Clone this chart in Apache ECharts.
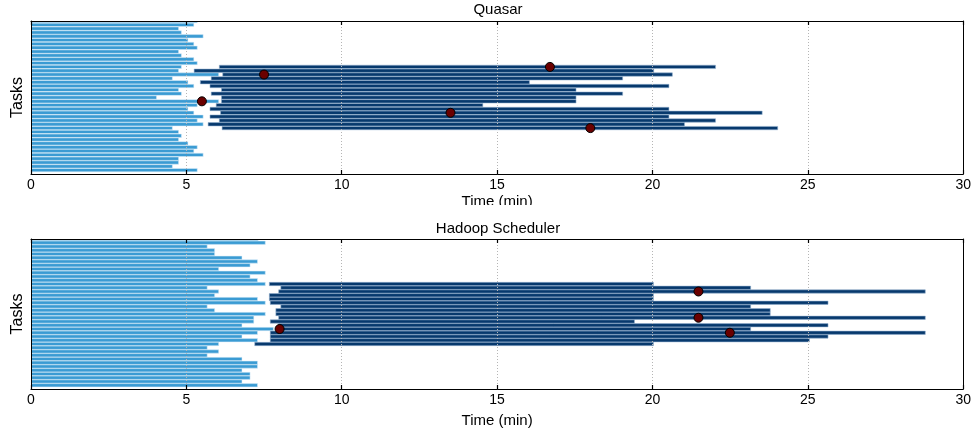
<!DOCTYPE html>
<html>
<head>
<meta charset="utf-8">
<script src="https://cdn.jsdelivr.net/npm/echarts@6/dist/echarts.min.js"></script>
<style>html,body{margin:0;padding:0;background:#fff;}#c{width:974px;height:429px;}</style>
</head>
<body>
<div id="c"></div>
<script>
// ---- data (minutes) ----
const xTicks = [0, 5, 10, 15, 20, 25, 30];
const taskCount = 40;

const quasarMapEnd = [5.35,5.24,4.75,4.84,5.54,5.05,5.24,5.35,4.75,4.84,5.24,5.35,4.84,4.75,6.04,4.55,5.05,5.24,4.75,4.84,4.04,6.04,5.35,5.05,5.24,5.54,5.35,5.54,4.55,4.75,4.84,4.75,5.05,5.35,5.24,5.54,4.75,4.75,4.55,5.35];
const quasarReduceRows = [12,13,14,15,16,17,18,19,20,21,22,23,24,25,26,27,28];
const quasarReduceStart = [6.06,5.25,6.17,5.80,5.45,5.76,6.13,5.80,6.13,6.13,5.96,5.76,6.10,5.76,6.06,5.70,6.15];
const quasarReduceEnd = [22.03,20.04,20.64,19.04,16.04,20.53,17.54,19.04,17.54,17.54,14.54,20.53,23.53,20.53,22.03,21.03,24.03];
const quasarStragglerTime = [16.7, 7.5, 5.5, 13.5, 18.0];
const quasarStragglerRow = [12, 14, 21, 24, 28];

const hadoopMapEnd = [7.31,7.54,5.67,5.91,5.91,6.79,7.29,7.05,6.04,7.54,7.05,7.29,7.54,5.67,6.04,5.91,7.29,7.54,5.67,5.91,7.54,7.17,7.17,6.79,7.80,7.29,6.79,7.29,6.04,5.67,6.04,5.67,6.79,7.29,7.29,6.79,7.05,7.05,6.79,7.29];
const hadoopReduceRows = [12,13,14,15,16,17,18,19,20,21,22,23,24,25,26,27,28];
const hadoopReduceStart = [7.67,8.04,7.97,7.67,7.67,7.70,8.04,7.88,7.88,7.97,7.70,7.97,7.97,7.70,7.70,7.70,7.20];
const hadoopReduceEnd = [20.03,23.16,28.78,20.03,20.03,25.65,23.16,23.79,23.79,28.78,19.42,25.65,23.16,28.78,25.65,25.05,20.03];
const hadoopStragglerTime = [21.48, 21.48, 8.0, 22.49];
const hadoopStragglerRow = [14, 21, 24, 25];

const panelTitles = ['Quasar', 'Hadoop Scheduler'];

// ---- styling ----
const FONT = 'Liberation Sans, Arial, Helvetica, sans-serif';
const LIGHT = '#3a9bd3';
const DARK = '#07396d';

function mapData(ends) { return ends.map((e, i) => [i, 0, e]); }
function reduceData(rows, s, e) { return rows.map((r, i) => [r, s[i], e[i]]); }
function dotData(t, r) { return t.map((v, i) => [v, r[i]]); }

function barRenderer(color, stroke) {
  return function (params, api) {
    const row = api.value(0);
    const p0 = api.coord([api.value(1), row]);
    const p1 = api.coord([api.value(2), row]);
    const h = api.size([0, 1])[1] * 0.88;
    return {
      type: 'rect',
      shape: { x: p0[0], y: p0[1] - h / 2, width: p1[0] - p0[0], height: h },
      style: { fill: color, stroke: stroke, lineWidth: 0.7 }
    };
  };
}

const grids = [
  { left: 31, top: 21, width: 935, height: 153 },
  { left: 31, top: 239, width: 935, height: 152 }
];

const xAxes = [], yAxes = [], titles = [], series = [];
grids.forEach((g, i) => {
  xAxes.push({
    gridIndex: i, type: 'value', min: 0, max: 30, interval: 5, position: 'bottom', z: 5,
    axisLine: { show: true, onZero: false, lineStyle: { color: '#000', width: 1 } },
    axisTick: { show: true, inside: true, length: 4, lineStyle: { color: '#000', width: 1.2 } },
    axisLabel: { color: '#000', fontSize: 14, fontFamily: FONT, margin: 4 },
    splitLine: { show: true, lineStyle: { color: '#b5b5b5', type: [1, 2], width: 1 } },
    name: 'Time (min)', nameLocation: 'middle', nameGap: i === 0 ? 20 : 24,
    nameTextStyle: { color: '#000', fontSize: 15, fontFamily: FONT }
  });
  xAxes.push({
    gridIndex: i, type: 'value', min: 0, max: 30, interval: 5, position: 'top', z: 5,
    axisLine: { show: true, onZero: false, lineStyle: { color: '#000', width: 1 } },
    axisTick: { show: true, inside: true, length: 4, lineStyle: { color: '#000', width: 1.2 } },
    axisLabel: { show: false }, splitLine: { show: false }
  });
  yAxes.push({
    gridIndex: i, type: 'value', min: 0, max: taskCount, inverse: true, position: 'left', z: 5,
    axisLine: { show: true, onZero: false, lineStyle: { color: '#000', width: 1 } },
    axisTick: { show: false }, axisLabel: { show: false }, splitLine: { show: false },
    name: 'Tasks', nameLocation: 'middle', nameGap: 5,
    nameTextStyle: { color: '#000', fontSize: 16, fontFamily: FONT }
  });
  yAxes.push({
    gridIndex: i, type: 'value', min: 0, max: taskCount, inverse: true, position: 'right', z: 5,
    axisLine: { show: true, onZero: false, lineStyle: { color: '#000', width: 1 } },
    axisTick: { show: false }, axisLabel: { show: false }, splitLine: { show: false }
  });
  titles.push({
    text: panelTitles[i], left: 498, top: i === 0 ? 2 : 221, textAlign: 'center', padding: 0,
    textStyle: { color: '#000', fontSize: 15, fontWeight: 'normal', fontFamily: FONT }
  });
});

const panels = [
  { map: quasarMapEnd, rows: quasarReduceRows, s: quasarReduceStart, e: quasarReduceEnd, dt: quasarStragglerTime, dr: quasarStragglerRow },
  { map: hadoopMapEnd, rows: hadoopReduceRows, s: hadoopReduceStart, e: hadoopReduceEnd, dt: hadoopStragglerTime, dr: hadoopStragglerRow }
];
panels.forEach((p, i) => {
  series.push({
    type: 'custom', xAxisIndex: i * 2, yAxisIndex: i * 2, clip: true, z: 2,
    renderItem: barRenderer(LIGHT, 'rgba(220,238,250,0.75)'),
    encode: { x: [1, 2], y: 0 }, data: mapData(p.map)
  });
  series.push({
    type: 'custom', xAxisIndex: i * 2, yAxisIndex: i * 2, clip: true, z: 3,
    renderItem: barRenderer(DARK, 'rgba(150,180,210,0.8)'),
    encode: { x: [1, 2], y: 0 }, data: reduceData(p.rows, p.s, p.e)
  });
  series.push({
    type: 'scatter', xAxisIndex: i * 2, yAxisIndex: i * 2, z: 10,
    symbol: 'circle', symbolSize: 9,
    itemStyle: { color: '#6a0000', borderColor: '#000', borderWidth: 1, opacity: 1 },
    data: dotData(p.dt, p.dr)
  });
});

const chart = echarts.init(document.getElementById('c'), null, { renderer: 'canvas' });
chart.setOption({
  animation: false,
  backgroundColor: '#fff',
  title: titles,
  grid: grids,
  xAxis: xAxes,
  yAxis: yAxes,
  series: series,
  graphic: [{ type: 'rect', z: 100, shape: { x: 0, y: 205, width: 974, height: 14 }, style: { fill: '#fff' } }]
});
</script>
</body>
</html>
